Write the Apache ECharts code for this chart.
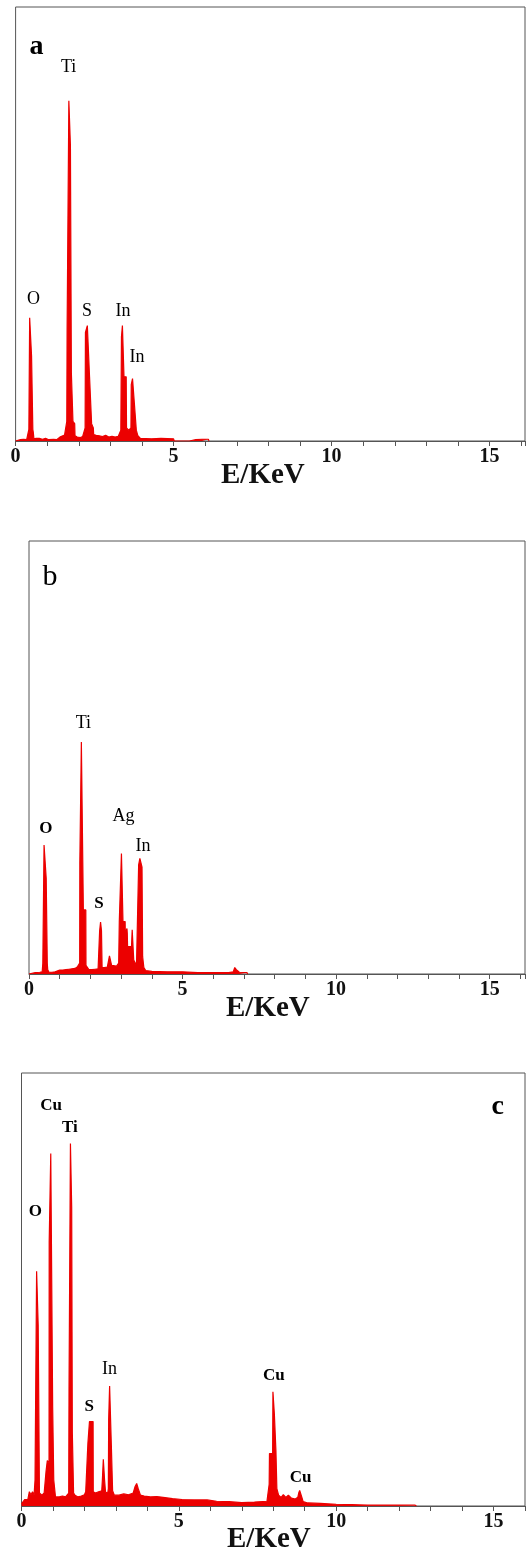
<!DOCTYPE html>
<html>
<head>
<meta charset="utf-8">
<script src="https://cdn.jsdelivr.net/npm/echarts@6/dist/echarts.min.js"></script>
<style>
html,body{margin:0;padding:0;background:#fff;}
#chart{width:528px;height:1562px;}
</style>
</head>
<body>
<div id="chart"></div>
<script>
// ---------- data (energy in keV, counts in % of full scale) ----------
const tickLabels = [0, 5, 10, 15];
const axisTitle = 'E/KeV';

const spectrumA = [
  [0,0],[0.05,0.3],[0.15,0.3],[0.25,0.4],[0.35,0.3],[0.40,0.5],[0.42,2.7],[0.44,2.7],[0.445,28.4],[0.50,28.4],
  [0.505,19.6],[0.54,19.6],[0.545,2.7],[0.56,2.0],[0.58,0.5],[0.65,0.6],[0.70,0.2],[0.75,0.6],[0.85,0.4],
  [0.95,0.6],[1.05,0.3],[1.20,0.4],[1.30,0.3],[1.40,0.9],[1.45,1.3],[1.55,1.4],[1.60,1.4],[1.62,4.5],
  [1.63,25.6],[1.68,25.6],[1.685,78.4],[1.73,78.4],[1.735,68.0],[1.76,68.0],[1.765,15.6],[1.81,15.6],
  [1.815,4.5],[1.87,4.0],[1.88,1.2],[1.95,0.9],[2.05,0.8],[2.12,1.0],[2.17,1.2],[2.20,3.0],[2.21,25.0],
  [2.27,26.6],[2.33,26.6],[2.34,14.8],[2.40,14.8],[2.405,4.0],[2.46,3.0],[2.47,1.5],[2.55,1.3],[2.65,1.2],
  [2.75,1.0],[2.85,1.3],[2.95,0.9],[3.05,1.1],[3.15,0.9],[3.25,1.1],[3.30,1.5],[3.33,2.5],[3.35,24.0],
  [3.38,26.6],[3.42,26.6],[3.43,14.8],[3.50,14.8],[3.51,3.0],[3.58,2.5],[3.62,2.5],[3.65,3.0],[3.66,13.0],
  [3.70,14.4],[3.75,14.4],[3.76,8.5],[3.81,8.5],[3.82,2.5],[3.87,1.2],[3.95,0.6],[4.3,0.5],[4.6,0.6],
  [5.0,0.5],[5.02,0],[5.5,0],[5.52,0.4],[5.7,0.3],[5.9,0.4],[6.1,0.4],[6.12,0]
];

const spectrumB = [
  [0,0],[0.05,0.3],[0.2,0.3],[0.35,0.4],[0.43,0.5],[0.45,2.5],[0.48,2.5],[0.49,29.8],[0.555,29.8],
  [0.56,22.1],[0.59,22.1],[0.595,2.5],[0.61,1.0],[0.65,0.4],[0.75,0.4],[0.85,0.5],[0.9,0.8],[1.0,0.9],
  [1.1,0.9],[1.2,1.0],[1.3,1.1],[1.4,1.2],[1.5,1.3],[1.58,1.7],[1.62,2.0],[1.65,2.5],[1.655,25.6],
  [1.70,25.6],[1.705,53.6],[1.765,53.6],[1.77,14.8],[1.85,14.8],[1.855,2.0],[1.91,1.7],[1.95,1.0],
  [2.05,1.0],[2.15,1.1],[2.25,1.2],[2.29,1.5],[2.30,10.0],[2.33,12.0],[2.36,10.0],[2.38,1.5],[2.45,1.5],
  [2.55,1.6],[2.60,2.0],[2.62,4.2],[2.66,4.2],[2.69,2.0],[2.75,1.8],[2.85,1.8],[2.92,2.5],[2.94,12.1],
  [3.00,12.1],[3.01,27.8],[3.055,27.8],[3.06,12.1],[3.13,12.1],[3.135,9.4],[3.18,9.4],[3.19,10.5],
  [3.20,9.4],[3.21,6.3],[3.32,6.3],[3.33,5.0],[3.36,10.2],[3.40,10.2],[3.41,3.2],[3.47,3.2],[3.50,2.0],
  [3.56,2.0],[3.57,25.2],[3.61,26.7],[3.65,26.7],[3.68,24.7],[3.70,4.0],[3.74,1.5],[3.80,0.8],[4.0,0.6],
  [4.5,0.5],[5.0,0.5],[5.05,0.3],[5.5,0.3],[6.0,0.3],[6.5,0.3],[6.65,0.5],[6.70,1.5],[6.75,1.0],
  [6.85,0.4],[7.1,0.3],[7.12,0]
];

const spectrumC = [
  [0,0.5],[0.05,0.5],[0.1,1.5],[0.2,1.5],[0.25,3.3],[0.3,2.6],[0.35,3.3],[0.40,2.5],[0.43,6.0],
  [0.475,6.0],[0.48,54.2],[0.525,54.2],[0.53,41.8],[0.565,41.8],[0.57,3.0],[0.60,3.0],[0.65,2.5],
  [0.72,3.0],[0.78,8.0],[0.82,10.5],[0.875,10.0],[0.88,61.0],[0.925,61.0],[0.93,81.4],[0.985,81.4],
  [0.99,22.9],[1.02,22.9],[1.025,6.0],[1.06,6.0],[1.08,2.1],[1.2,2.1],[1.3,2.3],[1.4,2.1],[1.50,3.0],
  [1.51,26.8],[1.55,26.8],[1.555,83.7],[1.59,83.7],[1.595,69.0],[1.61,69.0],[1.615,16.9],[1.65,16.9],
  [1.655,3.0],[1.70,2.5],[1.8,2.1],[1.9,2.3],[2.0,2.6],[2.04,3.3],[2.10,3.3],[2.11,14.5],[2.155,14.5],
  [2.16,19.5],[2.275,19.5],[2.28,3.3],[2.35,3.0],[2.45,3.3],[2.55,3.5],[2.57,6.0],[2.60,10.8],[2.635,10.8],
  [2.64,6.0],[2.67,3.2],[2.74,3.0],[2.76,4.0],[2.77,20.0],[2.80,27.7],[2.85,27.7],[2.855,14.0],[2.89,14.0],
  [2.895,3.5],[2.95,2.5],[3.1,2.5],[3.25,2.8],[3.4,2.6],[3.55,3.0],[3.61,4.5],[3.66,5.2],[3.71,4.0],
  [3.78,2.5],[3.9,2.3],[4.1,2.1],[4.3,2.2],[4.5,2.0],[4.8,1.7],[5.1,1.5],[5.5,1.4],[5.9,1.4],[6.2,1.1],
  [6.6,1.0],[7.0,0.8],[7.4,0.9],[7.8,1.1],[7.85,1.5],[7.87,5.0],[7.88,12.1],[7.98,12.1],[7.99,26.4],
  [8.03,26.4],[8.035,21.3],[8.08,21.3],[8.085,12.8],[8.11,12.8],[8.115,4.0],[8.17,2.5],[8.25,2.0],
  [8.32,2.6],[8.40,2.0],[8.48,2.5],[8.58,1.8],[8.70,1.6],[8.78,2.0],[8.81,3.0],[8.84,3.6],[8.88,3.6],
  [8.91,2.0],[8.95,1.0],[9.1,0.7],[9.5,0.6],[10.0,0.4],[10.5,0.3],[11.0,0.2],[11.5,0.2],[12.0,0.2],
  [12.5,0.2],[12.55,0]
];

// peak annotations: element name, anchor energy (keV), anchor level
const peakNamesA = ['O','Ti','S','In','In'];
const peakXA = [0.57,1.68,2.26,3.40,3.84];
const peakYA = [32.7,86.1,29.9,29.9,19.4];

const peakNamesB = ['Ti','Ag','In'];
const peakXB = [1.77,3.08,3.71];
const peakYB = [57.8,36.5,29.6];
const peakNamesBoldB = ['O','S'];
const peakXBoldB = [0.55,2.28];
const peakYBoldB = [33.6,16.2];

const peakNamesC = ['In'];
const peakXC = [2.80];
const peakYC = [31.6];
const peakNamesBoldC = ['Cu','Ti','O','S','Cu','Cu'];
const peakXBoldC = [0.94,1.54,0.44,2.15,8.02,8.87];
const peakYBoldC = [92.5,87.5,68.1,22.9,30.1,6.5];

const panelNames = ['a','b','c'];
const panelX = [0.66,0.68,15.13];
const panelY = [90.9,91.7,92.1];

// ---------- chart ----------
const RED = '#ec0000';
const SERIF = '"Liberation Serif","Times New Roman",serif';
const grids = [
  {left: 15.6, top: 7,    width: 510.4, height: 434},
  {left: 29,   top: 541,  width: 512,   height: 433},
  {left: 21.5, top: 1073, width: 506,   height: 433}
];
const xMax = [16.12, 16.15, 16];

function xAxisFor(i) {
  return {
    type: 'value', gridIndex: i, min: 0, max: xMax[i], interval: 1,
    axisLine: {show: true, lineStyle: {color: '#555', width: 1}},
    axisTick: {show: true, inside: false, length: 5, lineStyle: {color: '#555', width: 1}},
    axisLabel: {
      show: true, margin: 6, color: '#111', fontFamily: SERIF, fontWeight: 'bold', fontSize: 20,
      formatter: v => tickLabels.indexOf(v) >= 0 ? String(v) : ''
    },
    splitLine: {show: false}
  };
}
function yAxisFor(i) {
  return {type: 'value', gridIndex: i, min: 0, max: 100, show: false};
}
function spectrumSeries(i, data) {
  return {
    type: 'line', xAxisIndex: i, yAxisIndex: i, data: data, symbol: 'none',
    lineStyle: {color: RED, width: 1.2}, areaStyle: {color: RED, opacity: 1},
    silent: true, animation: false, z: 2
  };
}
function labelSeries(i, names, xs, ys, size, weight) {
  return {
    type: 'scatter', xAxisIndex: i, yAxisIndex: i, symbol: 'circle', symbolSize: 1,
    itemStyle: {color: 'rgba(0,0,0,0)'}, animation: false, silent: true, z: 5,
    data: names.map((n, k) => ({name: n, value: [xs[k], ys[k]]})),
    label: {show: true, position: 'inside', formatter: p => p.name, opacity: 1,
      color: '#000', fontFamily: SERIF, fontSize: size, fontWeight: weight}
  };
}

const option = {
  backgroundColor: '#fff',
  animation: false,
  grid: grids.map(g => Object.assign({show: true, borderColor: '#555', borderWidth: 1, backgroundColor: 'transparent'}, g)),
  xAxis: [0,1,2].map(xAxisFor),
  yAxis: [0,1,2].map(yAxisFor),
  title: [
    {text: axisTitle, left: 216, top: 456},
    {text: axisTitle, left: 221, top: 989},
    {text: axisTitle, left: 222, top: 1520}
  ].map(t => Object.assign(t, {textStyle: {fontFamily: SERIF, fontSize: 29, fontWeight: 'bold', color: '#111'}})),
  series: [
    spectrumSeries(0, spectrumA),
    spectrumSeries(1, spectrumB),
    spectrumSeries(2, spectrumC),
    labelSeries(0, peakNamesA, peakXA, peakYA, 18, 'normal'),
    labelSeries(1, peakNamesB, peakXB, peakYB, 18, 'normal'),
    labelSeries(1, peakNamesBoldB, peakXBoldB, peakYBoldB, 17, 'bold'),
    labelSeries(2, peakNamesC, peakXC, peakYC, 18, 'normal'),
    labelSeries(2, peakNamesBoldC, peakXBoldC, peakYBoldC, 17, 'bold'),
    labelSeries(0, [panelNames[0]], [panelX[0]], [panelY[0]], 28, 'bold'),
    labelSeries(1, [panelNames[1]], [panelX[1]], [panelY[1]], 30, 'normal'),
    labelSeries(2, [panelNames[2]], [panelX[2]], [panelY[2]], 28, 'bold')
  ]
};

const chart = echarts.init(document.getElementById('chart'), null, {renderer: 'canvas'});
chart.setOption(option);
</script>
</body>
</html>
